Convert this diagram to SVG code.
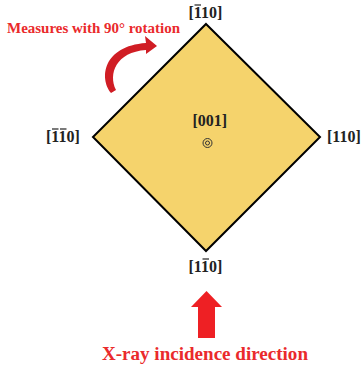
<svg xmlns="http://www.w3.org/2000/svg" width="363" height="368" viewBox="0 0 363 368">
<style>
.lbl{font-family:"Liberation Serif","Times New Roman",serif;font-weight:bold;font-size:16px;fill:#222}
.red{font-family:"Liberation Serif","Times New Roman",serif;font-weight:bold;fill:#ea2a2c}
.bar{stroke:#222;stroke-width:1.2}
</style>
<rect width="363" height="368" fill="#fff"/>
<g id="crystal">
<polygon points="206,24 320,137 206,251 93,137" fill="#f5d36c" stroke="#000" stroke-width="2" stroke-linejoin="miter"/>
</g>
<g id="label-top">
<text class="lbl" x="188.5" y="18">[110]</text>
<line class="bar" x1="194.5" y1="5" x2="201" y2="5"/>
</g>
<g id="label-left">
<text class="lbl" x="46" y="142">[110]</text>
<line class="bar" x1="52" y1="129" x2="58.5" y2="129"/>
<line class="bar" x1="60" y1="129" x2="66.5" y2="129"/>
</g>
<g id="label-right">
<text class="lbl" x="327" y="142">[110]</text>
</g>
<g id="label-bottom">
<text class="lbl" x="188.5" y="272">[110]</text>
<line class="bar" x1="202.5" y1="259" x2="209" y2="259"/>
</g>
<g id="label-center">
<text class="lbl" x="192.5" y="126">[001]</text>
<circle cx="207.5" cy="143" r="4.5" fill="none" stroke="#333" stroke-width="1"/>
<circle cx="207.5" cy="143" r="2" fill="none" stroke="#333" stroke-width="1"/>
</g>
<g id="rotation">
<text class="red" x="7" y="33" font-size="14.5" textLength="173" lengthAdjust="spacingAndGlyphs">Measures with 90° rotation</text>
<path d="M111,93 C99,78 103,46 146,43 L145,36 L157,46 L146,54 L146,50 C116,52 108,74 116,90 Z" fill="#d01d24"/>
</g>
<g id="connectors">
<polygon points="206.5,291 222,307 215,307 215,338 198,338 198,307 191,307" fill="#ee2024"/>
</g>
<g id="incidence">
<text class="red" x="102" y="360" font-size="18.5" textLength="206" lengthAdjust="spacingAndGlyphs">X-ray incidence direction</text>
</g>
</svg>
